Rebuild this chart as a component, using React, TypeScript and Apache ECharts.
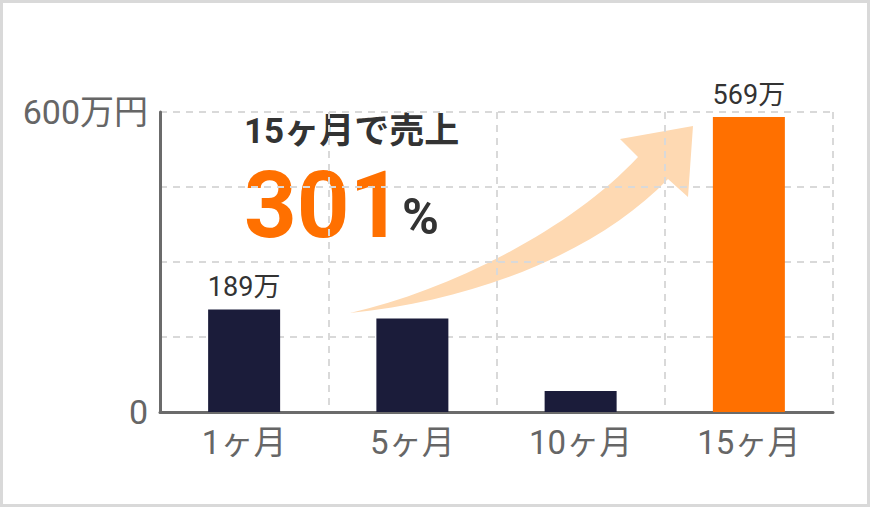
import { useRef, useEffect } from "react";
import * as echarts from "echarts";

const months = ["1ヶ月", "5ヶ月", "10ヶ月", "15ヶ月"];
const sales = [205, 187, 42, 590];
const barLabels = ["189万", "", "", "569万"];
const yTicks = [0, 150, 300, 450, 600];
const headline = "15ヶ月で売上";
const growth = "301";

const arrowPath =
  "M350 313 C450 290 570 230 638 157 L620 139 L693 126 L688 197 L668 179 C600 250 480 300 350 313 Z";
echarts.graphic.registerShape("growthArrow", echarts.graphic.extendPath(arrowPath, {}) as any);

const FONT = "Roboto, 'Noto Sans CJK JP', sans-serif";

const App = () => {
  const chartRef = useRef<HTMLDivElement>(null);

  useEffect(() => {
    if (!chartRef.current) return;
    const chart = echarts.init(chartRef.current, undefined, { renderer: "svg" });
    const last = sales.length - 1;

    chart.setOption({
      animation: false,
      backgroundColor: "#ffffff",
      grid: { left: 160, right: 37, top: 112, bottom: 95 },
      xAxis: {
        type: "category",
        data: months,
        axisLine: { lineStyle: { color: "#6b6b6b", width: 3 } },
        axisTick: { show: false },
        axisLabel: { color: "#666666", fontSize: 33, fontFamily: FONT, margin: 14 },
        splitLine: {
          show: true,
          lineStyle: { color: "#d9d9d9", width: 2, type: [7, 6] },
        },
      },
      yAxis: {
        type: "value",
        min: yTicks[0],
        max: yTicks[yTicks.length - 1],
        interval: yTicks[1] - yTicks[0],
        axisLine: { show: true, lineStyle: { color: "#6b6b6b", width: 3 } },
        axisTick: { show: false },
        axisLabel: {
          color: "#666666",
          fontSize: 34,
          fontFamily: FONT,
          margin: 12,
          formatter: (v: number) =>
            v === yTicks[0] ? String(v) : v === yTicks[yTicks.length - 1] ? v + "万円" : "",
        },
        splitLine: {
          lineStyle: { color: "#d9d9d9", width: 2, type: [7, 6] },
        },
      },
      series: [
        {
          type: "bar",
          barWidth: 72,
          data: sales.map((v, i) => ({
            value: v,
            itemStyle: { color: i === last ? "#ff7000" : "#1b1c3a" },
          })),
          label: {
            show: true,
            position: "top",
            distance: 9,
            color: "#333333",
            fontSize: 27,
            fontFamily: FONT,
            formatter: (p: any) => barLabels[p.dataIndex],
          },
        },
      ],
      graphic: [
        {
          type: "rect",
          silent: true,
          shape: { x: 1.5, y: 1.5, width: 867, height: 504 },
          style: { fill: "none", stroke: "#d9d9d9", lineWidth: 3 },
        },
        {
          type: "growthArrow",
          silent: true,
          style: { fill: "#fed9b2" },
        },
        {
          type: "text",
          x: 244,
          y: 131,
          style: {
            text: headline,
            fill: "#333333",
            font: `bold 35px ${FONT}`,
            verticalAlign: "middle",
          },
        },
        {
          type: "text",
          x: 244,
          y: 205,
          style: {
            text: growth,
            fill: "#ff7000",
            font: `bold 92px ${FONT}`,
            verticalAlign: "middle",
          },
        },
        {
          type: "text",
          x: 402,
          y: 217,
          style: {
            text: "%",
            fill: "#333333",
            font: `bold 50px ${FONT}`,
            verticalAlign: "middle",
          },
        },
      ],
    });

    return () => {
      chart.dispose();
    };
  }, []);

  return (
    <div
      ref={chartRef}
      style={{ position: "fixed", left: 0, top: 0, width: 870, height: 507 }}
    ></div>
  );
};

export default App;
